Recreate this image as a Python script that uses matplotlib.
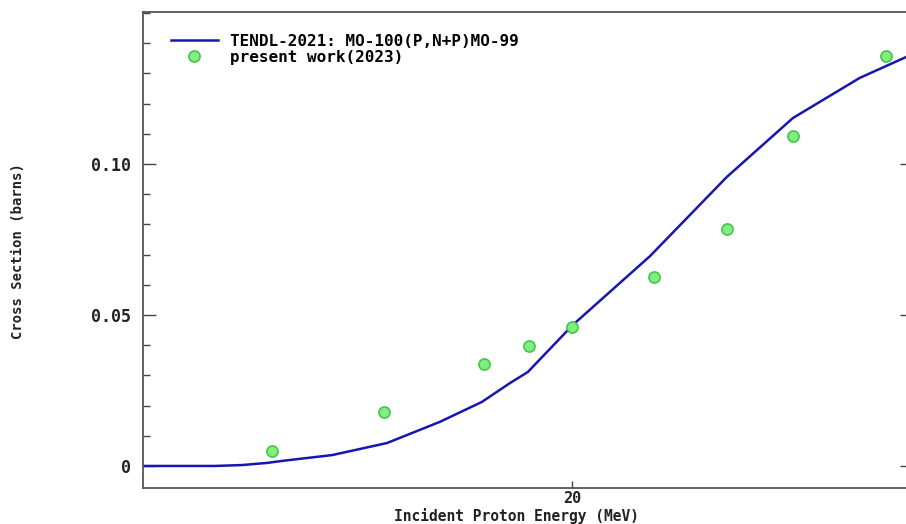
import matplotlib.pyplot as plt
import numpy as np
from matplotlib.ticker import MultipleLocator

# TENDL-2021 evaluation
tendl_energy = [10.0, 11.68, 12.31, 12.89, 13.26, 14.41, 15.69, 16.92, 17.90, 18.56,
                18.97, 20.02, 21.82, 23.61, 25.15, 26.71, 27.79]
tendl_xs = [0.0, 0.0, 0.0003, 0.001, 0.0017, 0.0036, 0.0076, 0.0146, 0.0212, 0.0275,
            0.0311, 0.0467, 0.0695, 0.0957, 0.1152, 0.1285, 0.1354]

# measured points
exp_energy = [13.01, 15.62, 17.95, 19.0, 20.0, 21.91, 23.61, 25.15, 27.32]
exp_xs = [0.005, 0.0179, 0.0338, 0.0397, 0.046, 0.0626, 0.0785, 0.1093, 0.1358]

mono = 'DejaVu Sans Mono'

fig = plt.figure(figsize=(9.06, 5.24), dpi=100)
ax = fig.add_axes([143/906, 36/524, 769/906, 476/524])

ax.plot(tendl_energy, tendl_xs, color='#1616b0', lw=1.8,
        label='TENDL-2021: MO-100(P,N+P)MO-99')
ax.plot(exp_energy, exp_xs, 'o', ls='none', ms=8, mfc='#80ee80', mec='#48c448',
        mew=1.2, label='present work(2023)')

# 20 MeV sits at x=572 px, 1 MeV ~ 42.9 px
ax.set_xlim(10, 10 + 769/42.9)
ax.set_ylim(-0.0073, 0.1503)

ax.set_xticks([20])
ax.set_yticks([0, 0.05, 0.10])
ax.set_yticklabels(['0', '0.05', '0.10'])
ax.yaxis.set_minor_locator(MultipleLocator(0.01))
ax.tick_params(axis='both', which='major', direction='in', length=9, width=1,
               color='#444444', labelsize=12, right=True)
ax.tick_params(axis='y', which='major', pad=9, right=True)
ax.tick_params(axis='y', which='minor', direction='in', length=5, width=1,
               color='#444444', right=False)
ax.tick_params(axis='x', which='major', length=5, pad=2, labelsize=11)
for lab in ax.get_xticklabels() + ax.get_yticklabels():
    lab.set_fontfamily(mono)
    lab.set_fontweight('bold')
    lab.set_color('#222222')

for sp in ax.spines.values():
    sp.set_color('#555555')
    sp.set_linewidth(1.3)

fig.text(516/906, 1 - 516/524, 'Incident Proton Energy (MeV)', ha='center', va='center',
         fontfamily=mono, fontweight='bold', fontsize=10.5, color='#222222')
fig.text(18/906, 1 - 251/524, 'Cross Section (barns)', ha='center', va='center',
         rotation=90, fontfamily=mono, fontweight='bold', fontsize=10, color='#222222')

leg = ax.legend(loc='upper left', bbox_to_anchor=(0.018, 0.984), frameon=False,
                handlelength=2.9, handletextpad=0.8, labelspacing=0.05,
                prop={'family': mono, 'weight': 'bold', 'size': 11.5})

fig.savefig('out.png', dpi=100)
